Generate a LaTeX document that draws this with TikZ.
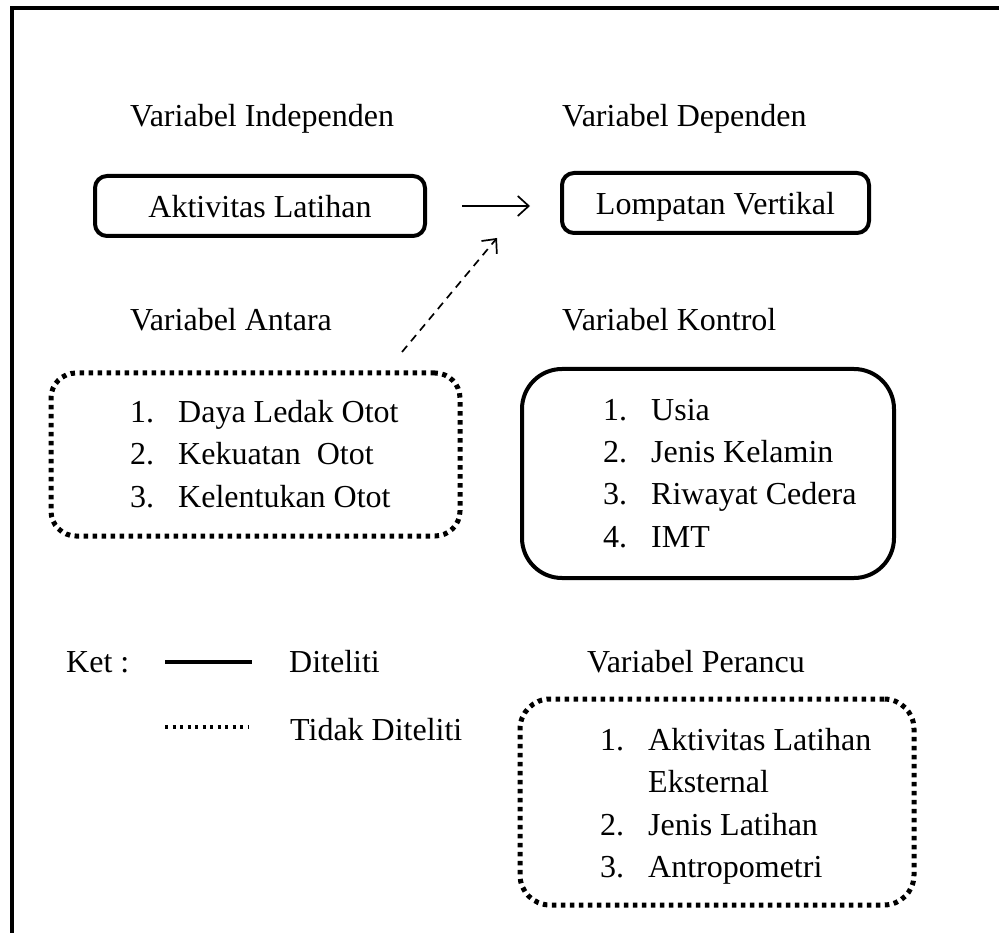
\documentclass[tikz,border=0pt]{standalone}
\usepackage{fontspec}
\setmainfont{Liberation Serif}
\usetikzlibrary{arrows.meta,positioning}

\begin{document}
\begin{tikzpicture}[x=1pt, y=-1pt,
    font=\fontsize{32}{42.5}\selectfont,
    heading/.style={anchor=base west, inner sep=0pt},
    box/.style={rectangle, draw, line width=4pt, rounded corners=12pt, text height=24pt, text depth=0pt, inner sep=0pt},
    listbox/.style={rectangle, draw, line width=4pt, inner sep=0pt},
    dotbox/.style={listbox, line width=5pt, line cap=butt, dash pattern=on 4.5pt off 4.5pt},
    itemlist/.style={anchor=base west, inner sep=0pt},
    arrow/.style={-{Straight Barb[length=11pt,width=20pt]}, line width=1.7pt}
]

% Frame
\useasboundingbox (0,0) rectangle (999,933);
\draw[line width=4pt] (11.5,933) -- (11.5,8) -- (999,8);

% Independent and dependent variables
\node[heading] (indeplabel) at (130,127) {Variabel Independen};
\node[heading] (deplabel) at (562,127) {Variabel Dependen};
\node[box, minimum width=330pt, minimum height=60pt] (aktivitas) at (260,206) {Aktivitas Latihan};
\node[box, minimum width=307pt, minimum height=60pt] (lompatan) at (715.5,203) {Lompatan Vertikal};

% Intervening variables (dotted)
\node[heading] (antaralabel) at (130,331) {Variabel Antara};
\node[dotbox, rounded corners=25pt, minimum width=409pt, minimum height=163pt] (antara) at (255.5,454.5) {};
\node[itemlist] (antaralist) at (130,422) {\begin{tabular}[t]{@{}p{48pt}@{}l@{}}
1. & Daya Ledak Otot\\
2. & Kekuatan\ \ Otot\\
3. & Kelentukan Otot
\end{tabular}};

% Control variables
\node[heading] (kontrollabel) at (562,331) {Variabel Kontrol};
\node[listbox, rounded corners=40pt, minimum width=372pt, minimum height=209pt] (kontrol) at (708,473.5) {};
\node[itemlist] (kontrollist) at (603,420) {\begin{tabular}[t]{@{}p{48pt}@{}l@{}}
1. & Usia\\
2. & Jenis Kelamin\\
3. & Riwayat Cedera\\
4. & IMT
\end{tabular}};

% Arrows
\draw[arrow, shorten <=35pt, shorten >=30pt] (aktivitas.east) -- (aktivitas.east -| lompatan.west);
\coordinate (dashfrom) at (402,352);
\coordinate (dashto) at (497,238);
\draw[arrow, dash pattern=on 8pt off 6pt] (dashfrom) -- (dashto);

% Legend
\node[heading] (ket) at (66,672) {Ket :};
\draw[line width=4pt] (165,662) -- (252,662);
\node[heading] (diteliti) at (289,672) {Diteliti};
\draw[line width=3.5pt, dash pattern=on 3pt off 4.5pt] (165,727) -- (249,727);
\node[heading] (tidakditeliti) at (290,740) {Tidak Diteliti};

% Confounding variables (dotted)
\node[heading] (peranculabel) at (587,672) {Variabel Perancu};
\node[dotbox, rounded corners=30pt, minimum width=394pt, minimum height=206pt] (perancu) at (717,802) {};
\node[itemlist] (peranculist) at (600,750) {\begin{tabular}[t]{@{}p{48pt}@{}l@{}}
1. & Aktivitas Latihan\\
   & Eksternal\\
2. & Jenis Latihan\\
3. & Antropometri
\end{tabular}};

\end{tikzpicture}
\end{document}
